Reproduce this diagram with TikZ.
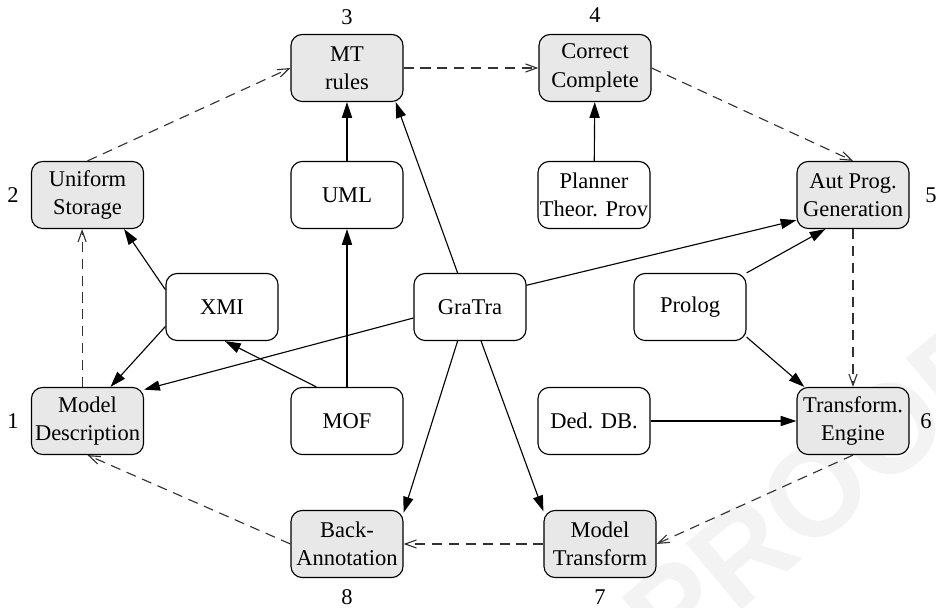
\documentclass[tikz,border=0pt]{standalone}
\usepackage{fontspec}
\setmainfont{Liberation Serif}
\setsansfont{Liberation Sans}
\usetikzlibrary{arrows.meta}
\definecolor{boxgray}{RGB}{232,232,232}
\definecolor{markgray}{RGB}{243,243,243}
\definecolor{dashgray}{RGB}{50,50,50}

\begin{document}
\begin{tikzpicture}[x=0.4444pt,y=-0.4444pt,
    every node/.style={font=\fontsize{10}{12.5}\selectfont},
    box/.style={draw,rounded corners=5pt,align=center,inner sep=0pt,
      minimum width=49.8pt,minimum height=29.8pt,line width=0.5pt},
    stage/.style={box,fill=boxgray},
    tool/.style={box,fill=white},
    uses/.style={-{Triangle[length=7pt,width=4.5pt]},line width=0.5pt},
    flow/.style={-{Straight Barb[length=5pt,width=3.6pt]},dashed,
      dash pattern=on 4.5pt off 3pt,draw=dashgray,line width=0.5pt}]
  \useasboundingbox (0,0) rectangle (936,608);
  % watermark
  \node[text=markgray,font=\sffamily\bfseries\fontsize{56}{56}\selectfont,
    rotate=40] (proof) at (815,492) {PROOF};
  % process stages
  \node[stage] (md)  at (87.5,421) {Model\\Description};
  \node[stage] (us)  at (87.5,195) {Uniform\\Storage};
  \node[stage] (mt)  at (347,68)   {MT\\rules};
  \node[stage] (cc)  at (595,68)   {Correct\\Complete};
  \node[stage] (apg) at (853,195)  {Aut Prog.\\Generation};
  \node[stage] (te)  at (853,421)  {Transform.\\Engine};
  \node[stage] (mtr) at (600,544)  {Model\\Transform};
  \node[stage] (ba)  at (347,544)  {Back-\\Annotation};
  % tools
  \node[tool] (uml) at (347,195) {UML};
  \node[tool] (pl)  at (594,195) {Planner\\Theor. Prov};
  \node[tool] (xmi) at (222,307) {XMI};
  \node[tool] (gt)  at (470,307) {GraTra};
  \node[tool] (pro) at (690,307) {Prolog};
  \node[tool] (mof) at (347,421) {MOF};
  \node[tool] (ddb) at (594,421) {Ded. DB.};
  % step numbers
  \foreach \i/\x/\y in {1/13/421,2/13/195,3/347/17,4/595/15,
                        5/931/195,6/926/421,7/600/597,8/347/597}{
    \node (n\i) at (\x,\y) {\i};
  }
  % solid dependencies
  \draw[uses] (xmi.163) -- (us.317);
  \draw[uses] (xmi.199) -- (md.56);
  \draw[uses] (mof.132) -- (xmi.275);
  \draw[uses] (mof) -- (uml);
  \draw[uses] (uml) -- (mt);
  \draw[uses] (pl) -- (cc);
  \draw[uses] (gt.110) -- (mt.325);
  \draw[uses] (gt.191) -- (md.29);
  \draw[uses] (gt.21) -- (apg.204);
  \draw[uses] (gt.250) -- (ba.29);
  \draw[uses] (gt.288) -- (mtr.150);
  \draw[uses] (pro.north east) -- (apg.231);
  \draw[uses] (pro.332) -- (te.145);
  \draw[uses] (ddb) -- (te);
  % dashed process cycle
  \draw[flow] (md.99) -- (us.261);
  \draw[flow] (us.north) -- (mt.west);
  \draw[flow] (mt.east) -- (cc.west);
  \draw[flow] (cc.east) -- (apg.north);
  \draw[flow] (apg.south) -- (te.north);
  \draw[flow] (te.south) -- (mtr.east);
  \draw[flow] (mtr.west) -- (ba.east);
  \draw[flow] (ba.west) -- (md.south);
\end{tikzpicture}
\end{document}
